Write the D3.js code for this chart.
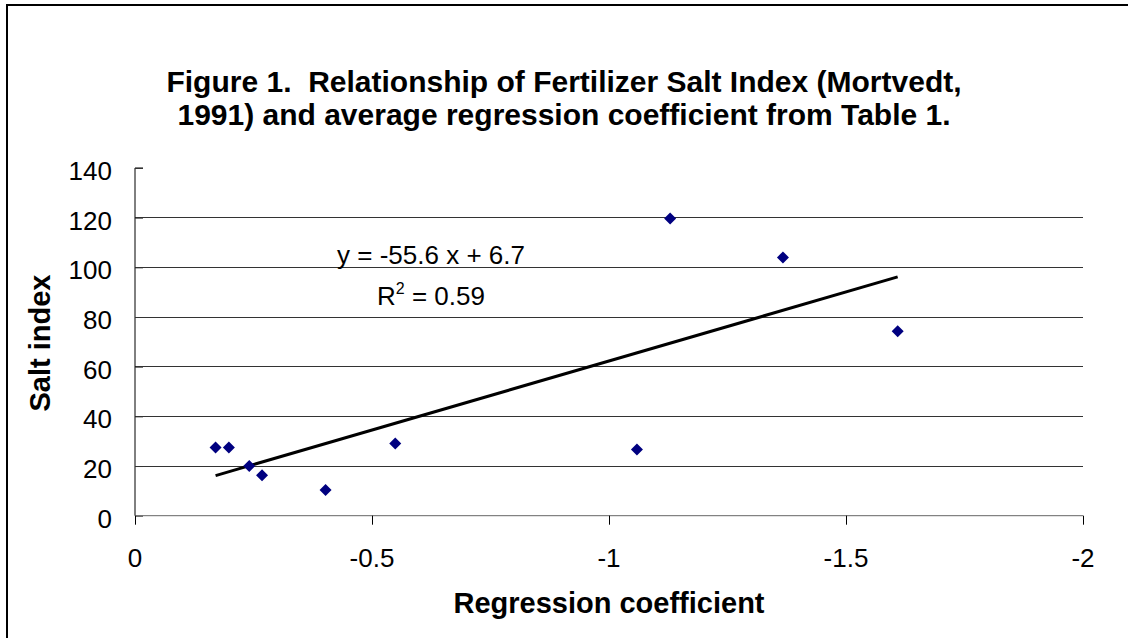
<!DOCTYPE html>
<html>
<head>
<meta charset="utf-8">
<script src="https://cdn.jsdelivr.net/npm/d3@7"></script>
<style>
  html, body { margin: 0; padding: 0; background: #fff; }
  svg { display: block; font-family: Arial, "Liberation Sans", sans-serif; }
  text { white-space: pre; }
</style>
</head>
<body>
<svg id="chart" width="1128" height="638"></svg>
<script>
// ---- data ----
const regressionCoef = [-0.170, -0.198, -0.241, -0.268, -0.402, -0.549, -1.059, -1.129, -1.367, -1.609];
const saltIndex      = [27.5,   27.5,   20.0,   16.3,   10.3,   29.1,   26.7,   119.7,  104.0,  74.3];
const xTicks = [0, -0.5, -1, -1.5, -2];
const yTicks = [0, 20, 40, 60, 80, 100, 120, 140];
const slope = -55.6, intercept = 6.7;
const titleLines = ["Figure 1.  Relationship of Fertilizer Salt Index (Mortvedt,",
                    "1991) and average regression coefficient from Table 1."];
const eqText = "y = -55.6 x + 6.7";
const r2Value = "0.59";

const svg = d3.select("#chart");
const x = d3.scaleLinear().domain([0, -2]).range([135, 1083]);
const y = d3.scaleLinear().domain([0, 140]).range([515.7, 168]);

// border (left/top visible; right/bottom clipped in reference)
svg.append("rect").attr("x", 7).attr("y", 5).attr("width", 1140).attr("height", 660)
  .attr("fill", "none").attr("stroke", "#000").attr("stroke-width", 2);

// title
svg.append("g").selectAll("text").data(titleLines).join("text")
  .attr("x", 564).attr("y", (d, i) => 92 + i * 33)
  .attr("text-anchor", "middle").attr("font-weight", "bold").attr("font-size", 30)
  .text(d => d);

// gridlines
svg.append("g").selectAll("line").data(yTicks.filter(t => t > 0 && t < 140)).join("line")
  .attr("x1", x(0)).attr("x2", x(-2)).attr("y1", d => y(d)).attr("y2", d => y(d))
  .attr("stroke", "#333").attr("stroke-width", 1).attr("shape-rendering", "crispEdges");

// y axis (ticks inside)
const yAxis = d3.axisRight(y).tickValues(yTicks).tickSize(8).tickFormat("");
const gy = svg.append("g").attr("transform", `translate(${x(0)},0)`).call(yAxis);
gy.select(".domain").attr("stroke", "#000").attr("d", `M8,${y(140)}H0V${y(0)}`);
gy.selectAll(".tick line").attr("stroke", "#333");
svg.append("g").selectAll("text").data(yTicks).join("text")
  .attr("x", 112).attr("y", d => y(d) + 12).attr("text-anchor", "end")
  .attr("font-size", 26).text(d => d);

// x axis
const xAxis = d3.axisBottom(x).tickValues(xTicks).tickSize(9).tickFormat("");
const gx = svg.append("g").attr("transform", `translate(0,${y(0)})`).call(xAxis);
gx.select(".domain").attr("stroke", "#666").attr("d", `M${x(0)},0H${x(-2)}`);
gx.selectAll(".tick line").attr("stroke", "#000");
svg.append("g").selectAll("text").data(xTicks).join("text")
  .attr("x", d => x(d)).attr("y", 567).attr("text-anchor", "middle")
  .attr("font-size", 26).text(d => d);

// axis titles
svg.append("text").attr("x", 609).attr("y", 613).attr("text-anchor", "middle")
  .attr("font-weight", "bold").attr("font-size", 29).text("Regression coefficient");
svg.append("text").attr("transform", "translate(50,343) rotate(-90)").attr("text-anchor", "middle")
  .attr("font-weight", "bold").attr("font-size", 29).text("Salt index");

// trend line
const xmin = d3.max(regressionCoef), xmax = d3.min(regressionCoef);
svg.append("line")
  .attr("x1", x(xmin)).attr("y1", y(slope * xmin + intercept))
  .attr("x2", x(xmax)).attr("y2", y(slope * xmax + intercept))
  .attr("stroke", "#000").attr("stroke-width", 3);

// points
const pts = regressionCoef.map((v, i) => [v, saltIndex[i]]);
svg.append("g").selectAll("path").data(pts).join("path")
  .attr("transform", d => `translate(${x(d[0])},${y(d[1])})`)
  .attr("d", "M0,-6L6,0L0,6L-6,0Z").attr("fill", "#000080");

// equation
svg.append("text").attr("x", 431).attr("y", 264).attr("text-anchor", "middle")
  .attr("font-size", 26).text(eqText);
const r2 = svg.append("text").attr("x", 431).attr("y", 305).attr("text-anchor", "middle")
  .attr("font-size", 26);
r2.append("tspan").text("R");
r2.append("tspan").attr("font-size", 16).attr("dy", -11).text("2");
r2.append("tspan").attr("dy", 11).text(" = " + r2Value);
</script>
</body>
</html>
